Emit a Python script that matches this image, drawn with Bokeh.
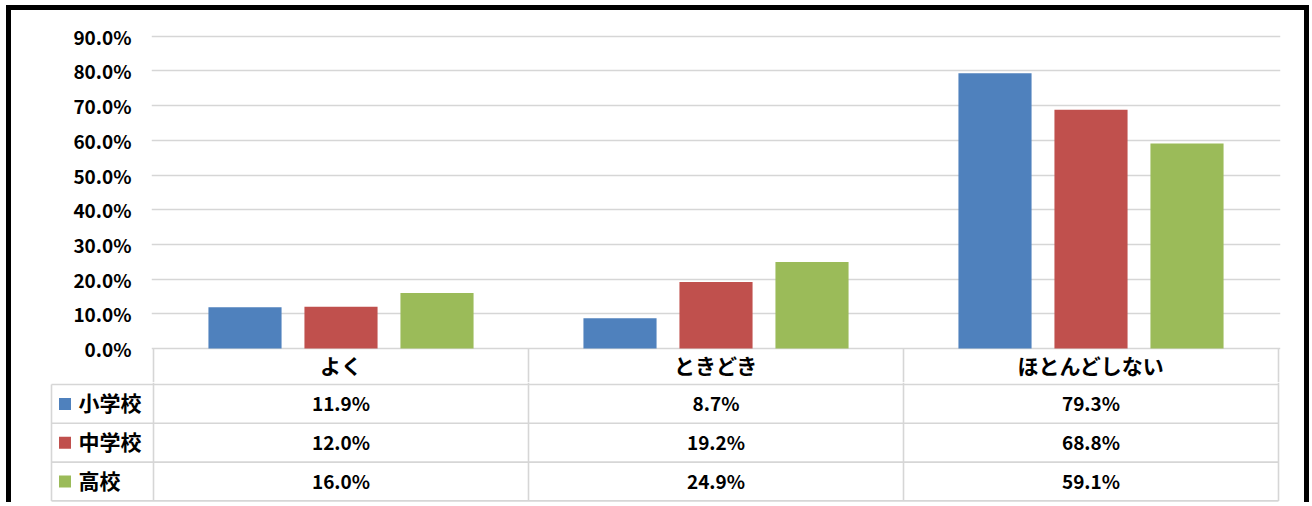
from bokeh.plotting import figure
from bokeh.models import Range1d, FixedTicker, NumeralTickFormatter, Spacer
from bokeh.layouts import column, row
from bokeh.core.properties import value
from bokeh.embed import file_html
from bokeh.resources import INLINE

# ---------------- data ----------------
categories = ["よく", "ときどき", "ほとんどしない"]
series_names = ["小学校", "中学校", "高校"]
elementary = [0.119, 0.087, 0.793]
junior_high = [0.120, 0.192, 0.688]
high_school = [0.160, 0.249, 0.591]
y_ticks = [0.0, 0.1, 0.2, 0.3, 0.4, 0.5, 0.6, 0.7, 0.8, 0.9]
series_values = [elementary, junior_high, high_school]
colors = ["#4F81BD", "#C0504D", "#9BBB59"]

# ---------------- layout constants (px, page coordinates) ----------------
FONT = "Noto Sans CJK JP"
FIG_W = 1293
OUTER_X, OUTER_Y = 6, 5   # page position of black frame
BORDER = 5
PAGE_LEFT = OUTER_X + BORDER   # page x of figure canvas left (11)
PAGE_TOP = OUTER_Y + BORDER    # page y of figure canvas top (10)
COL0_PX = 153        # left edge of first category column
CAT_PX = 375         # width of a category column
TABLE_LEFT_PX = 51
ZERO_PX = 348
PPU = (348 - 35.7) / 0.9
TOP_FIG_BOTTOM_PX = 382
ROW_TOP_PX = 384
ROW_PX = 38.8
BOTTOM_H = 120
TEXT_NUDGE_PX = 1.5
GRID = "#d6d6d6"

def ux(px):
    return (px - COL0_PX) / CAT_PX

n = len(categories)
offsets = [-0.256, 0.0, 0.256]
bar_w = 0.195

# ---------------- top figure: bars ----------------
top_h = TOP_FIG_BOTTOM_PX - PAGE_TOP
frame_top_px = 34
p = figure(width=FIG_W, height=top_h, output_backend="svg", toolbar_location=None,
           x_range=Range1d(ux(151), ux(1280)),
           y_range=Range1d(-(TOP_FIG_BOTTOM_PX - ZERO_PX) / PPU, (ZERO_PX - frame_top_px) / PPU),
           x_axis_location=None, min_border_left=151 - PAGE_LEFT,
           min_border_right=FIG_W - (1280 - PAGE_LEFT), min_border_top=frame_top_px - PAGE_TOP,
           min_border_bottom=0, frame_align=False)
p.outline_line_color = None
p.background_fill_color = "white"
p.border_fill_color = "white"
p.xgrid.grid_line_color = None

yax = p.yaxis[0]
yax.ticker = FixedTicker(ticks=y_ticks)
yax.formatter = NumeralTickFormatter(format="0.0%")
yax.axis_line_color = None
yax.major_tick_line_color = None
yax.minor_tick_line_color = None
yax.major_tick_out = 0
yax.major_tick_in = 0
yax.major_label_standoff = 151 - 131
yax.major_label_text_font = FONT
yax.major_label_text_font_style = "bold"
yax.major_label_text_font_size = "19px"
yax.major_label_text_color = "#000000"

p.ygrid.ticker = FixedTicker(ticks=y_ticks)
p.ygrid.grid_line_color = GRID
p.ygrid.grid_line_width = 1.6

centers = [i + 0.5 for i in range(n)]
for s, vals in enumerate(series_values):
    p.vbar(x=[c + offsets[s] for c in centers], top=vals, bottom=0, width=bar_w,
           fill_color=colors[s], line_color=None)

# header row (category labels)
bounds = [float(i) for i in range(n + 1)]
p.segment(x0=bounds, x1=bounds, y0=[0] * len(bounds),
          y1=[-(TOP_FIG_BOTTOM_PX - ZERO_PX + 2) / PPU] * len(bounds),
          line_color=GRID, line_width=1.6)
p.text(x=centers, y=[-(366 - TEXT_NUDGE_PX - ZERO_PX) / PPU] * n, text=categories,
       text_font=value(FONT), text_font_style="bold", text_font_size="21px",
       text_align="center", text_baseline="middle", text_color="#000000")

# ---------------- bottom figure: data table ----------------
t_top = (TOP_FIG_BOTTOM_PX - ROW_TOP_PX) / ROW_PX
t_bot = (TOP_FIG_BOTTOM_PX + BOTTOM_H - ROW_TOP_PX) / ROW_PX
t = figure(width=FIG_W, height=BOTTOM_H, output_backend="svg", toolbar_location=None,
           x_range=Range1d(ux(49), ux(1280)), y_range=Range1d(t_bot, t_top),
           x_axis_location=None, y_axis_location=None,
           min_border_left=49 - PAGE_LEFT, min_border_right=FIG_W - (1280 - PAGE_LEFT),
           min_border_top=0, min_border_bottom=0, frame_align=False)
t.outline_line_color = None
t.grid.grid_line_color = None
t.background_fill_color = "white"
t.border_fill_color = "white"

m = len(series_names)
rows = [float(r) for r in range(m + 1)]
t.segment(x0=[ux(TABLE_LEFT_PX)] * len(rows), x1=[float(n)] * len(rows), y0=rows, y1=rows,
          line_color=GRID, line_width=1.6)
t.segment(x0=bounds, x1=bounds, y0=[t_top] * len(bounds), y1=[float(m)] * len(bounds),
          line_color=GRID, line_width=1.6)
t.segment(x0=[ux(TABLE_LEFT_PX)], x1=[ux(TABLE_LEFT_PX)], y0=[0.0], y1=[float(m)],
          line_color=GRID, line_width=1.6)

row_c = [r + 0.5 for r in range(m)]
row_t = [c - TEXT_NUDGE_PX / ROW_PX for c in row_c]
t.rect(x=[ux(64.5)] * m, y=row_c, width=12, height=12, width_units="screen",
       height_units="screen", fill_color=colors, line_color=None)
t.text(x=[ux(78)] * m, y=row_t, text=series_names, text_font=value(FONT),
       text_font_style="bold", text_font_size="21px", text_align="left",
       text_baseline="middle", text_color="#000000")

for r, vals in enumerate(series_values):
    t.text(x=centers, y=[row_t[r]] * n, text=[f"{v * 100:.1f}%" for v in vals],
           text_font=value(FONT), text_font_style="bold", text_font_size="19px",
           text_align="center", text_baseline="middle", text_color="#000000")

# ---------------- outer black frame (top, left, right) ----------------
body_h = top_h + BOTTOM_H
black = {"background-color": "black"}
left_bar = Spacer(width=BORDER, height=body_h, styles=black)
right_bar = Spacer(width=BORDER, height=body_h, styles=black)
top_bar = Spacer(width=2 * BORDER + FIG_W, height=BORDER, styles=black)
framed = column(top_bar, row(left_bar, column(p, t, spacing=0), right_bar, spacing=0), spacing=0)

layout = column(Spacer(width=10, height=OUTER_Y),
                row(Spacer(width=OUTER_X, height=10), framed, spacing=0),
                spacing=0)

open("out.html", "w").write(file_html(layout, INLINE))
